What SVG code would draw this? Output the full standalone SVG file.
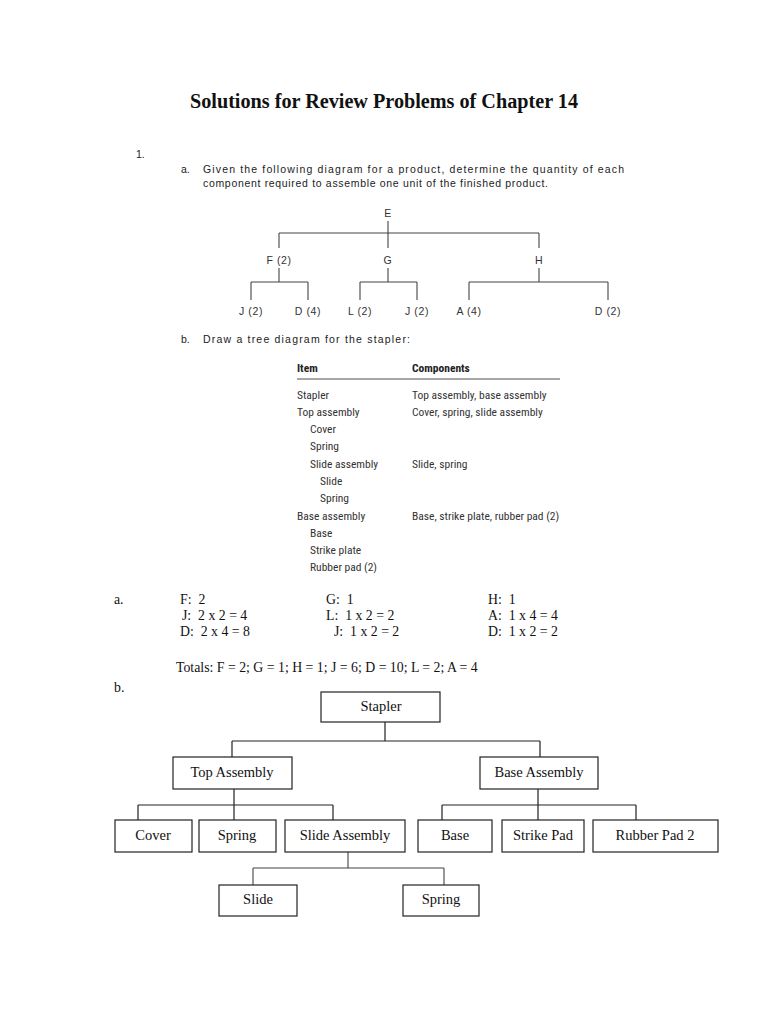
<svg xmlns="http://www.w3.org/2000/svg" width="768" height="1024" viewBox="0 0 768 1024">
<style>
.title{font-family:"Liberation Serif",serif;font-weight:bold;font-size:20.2px;fill:#111}
.q{font-family:"Liberation Sans",Arial,sans-serif;font-size:10.5px;fill:#222}
.t1{font-family:"Liberation Sans",Arial,sans-serif;font-size:10.5px;fill:#333;text-anchor:middle;letter-spacing:0.6px}
.tb{font-family:Roboto,"Liberation Sans",sans-serif;font-size:11.5px;fill:#333;font-stretch:condensed}
.tbh{font-family:Roboto,"Liberation Sans",sans-serif;font-size:11.5px;fill:#222;font-weight:bold;font-stretch:condensed}
.s{font-family:"Liberation Serif",serif;font-size:13.8px;fill:#111;white-space:pre}
.bt{font-family:"Liberation Serif",serif;font-size:14.5px;fill:#111;text-anchor:middle}
.box{fill:#fff;stroke:#222;stroke-width:1.2}
.ln{fill:none;stroke:#444;stroke-width:1.1}
.ln2{fill:none;stroke:#222;stroke-width:1.2}
</style>
<rect x="0" y="0" width="768" height="1024" fill="#fff"/>
<text class="title" x="384" y="108" text-anchor="middle">Solutions for Review Problems of Chapter 14</text>
<text class="q" x="136" y="158">1.</text>
<text class="q" x="181" y="173">a.</text>
<text class="q" x="203" y="173" textLength="421" lengthAdjust="spacing">Given the following diagram for a product, determine the quantity of each</text>
<text class="q" x="203" y="187" textLength="345" lengthAdjust="spacing">component required to assemble one unit of the finished product.</text>

<g id="tree1-connectors">
<path class="ln" d="M388 221V248M279 233H539M279 233V248M539 233V248"/>
<path class="ln" d="M279 268V282M388 268V282M539 268V282"/>
<path class="ln" d="M251 282H308M251 282V300M308 282V300"/>
<path class="ln" d="M360 282H417M360 282V300M417 282V300"/>
<path class="ln" d="M469 282H608M469 282V300M608 282V300"/>
</g>
<g id="tree1-nodes">
<g id="n-E"><text class="t1" x="388" y="217">E</text></g>
<g id="n-F"><text class="t1" x="279" y="264">F (2)</text></g>
<g id="n-G"><text class="t1" x="388" y="264">G</text></g>
<g id="n-H"><text class="t1" x="539" y="264">H</text></g>
<g id="n-J1"><text class="t1" x="251" y="315">J (2)</text></g>
<g id="n-D1"><text class="t1" x="308" y="315">D (4)</text></g>
<g id="n-L"><text class="t1" x="360" y="315">L (2)</text></g>
<g id="n-J2"><text class="t1" x="417" y="315">J (2)</text></g>
<g id="n-A"><text class="t1" x="469" y="315">A (4)</text></g>
<g id="n-D2"><text class="t1" x="608" y="315">D (2)</text></g>
</g>

<text class="q" x="181" y="343">b.</text>
<text class="q" x="203" y="343" textLength="207" lengthAdjust="spacing">Draw a tree diagram for the stapler:</text>

<g id="table">
<text class="tbh" x="297" y="372">Item</text>
<text class="tbh" x="412" y="372">Components</text>
<line x1="297" y1="379" x2="560" y2="379" stroke="#888" stroke-width="1.5"/>
<text class="tb" x="297" y="399">Stapler</text>
<text class="tb" x="297" y="416">Top assembly</text>
<text class="tb" x="310" y="433">Cover</text>
<text class="tb" x="310" y="450">Spring</text>
<text class="tb" x="310" y="468">Slide assembly</text>
<text class="tb" x="320" y="485">Slide</text>
<text class="tb" x="320" y="502">Spring</text>
<text class="tb" x="297" y="520">Base assembly</text>
<text class="tb" x="310" y="537">Base</text>
<text class="tb" x="310" y="554">Strike plate</text>
<text class="tb" x="310" y="571">Rubber pad (2)</text>
<text class="tb" x="412" y="399">Top assembly, base assembly</text>
<text class="tb" x="412" y="416">Cover, spring, slide assembly</text>
<text class="tb" x="412" y="468">Slide, spring</text>
<text class="tb" x="412" y="520">Base, strike plate, rubber pad (2)</text>
</g>

<g id="answers">
<text class="s" x="114" y="604">a.</text>
<text class="s" x="180" y="604">F:  2</text>
<text class="s" x="182" y="620">J:  2 x 2 = 4</text>
<text class="s" x="180" y="636">D:  2 x 4 = 8</text>
<text class="s" x="326" y="604">G:  1</text>
<text class="s" x="326" y="620">L:  1 x 2 = 2</text>
<text class="s" x="334" y="636">J:  1 x 2 = 2</text>
<text class="s" x="488" y="604">H:  1</text>
<text class="s" x="488" y="620">A:  1 x 4 = 4</text>
<text class="s" x="488" y="636">D:  1 x 2 = 2</text>
<text class="s" x="176" y="672">Totals: F = 2; G = 1; H = 1; J = 6; D = 10; L = 2; A = 4</text>
<text class="s" x="114" y="692">b.</text>
</g>

<g id="tree2-connectors">
<path class="ln2" d="M385 722V741M232 741H540M232 741V757M540 741V757"/>
<path class="ln2" d="M234 789V820M138 805H333M138 805V820M333 805V820"/>
<path class="ln2" d="M538 789V820M442 805H636M442 805V820M636 805V820"/>
<path class="ln" d="M348 852V868M253 868H444M253 868V885M444 868V885"/>
</g>
<g id="tree2-nodes">
<g id="b-stapler"><rect class="box" x="321" y="692" width="119" height="30"/><text class="bt" x="381" y="711">Stapler</text></g>
<g id="b-top"><rect class="box" x="173" y="757" width="119" height="32"/><text class="bt" x="232" y="777">Top Assembly</text></g>
<g id="b-base-asm"><rect class="box" x="480" y="757" width="118" height="32"/><text class="bt" x="539" y="777">Base Assembly</text></g>
<g id="b-cover"><rect class="box" x="115" y="820" width="77" height="32"/><text class="bt" x="153" y="840">Cover</text></g>
<g id="b-spring1"><rect class="box" x="199" y="820" width="77" height="32"/><text class="bt" x="237" y="840">Spring</text></g>
<g id="b-slide-asm"><rect class="box" x="285" y="820" width="120" height="32"/><text class="bt" x="345" y="840">Slide Assembly</text></g>
<g id="b-base"><rect class="box" x="418" y="820" width="74" height="32"/><text class="bt" x="455" y="840">Base</text></g>
<g id="b-strike"><rect class="box" x="502" y="820" width="82" height="32"/><text class="bt" x="543" y="840">Strike Pad</text></g>
<g id="b-rubber"><rect class="box" x="593" y="820" width="125" height="32"/><text class="bt" x="655" y="840">Rubber Pad 2</text></g>
<g id="b-slide"><rect class="box" x="219" y="885" width="78" height="31"/><text class="bt" x="258" y="904">Slide</text></g>
<g id="b-spring2"><rect class="box" x="403" y="885" width="76" height="31"/><text class="bt" x="441" y="904">Spring</text></g>
</g>
</svg>
